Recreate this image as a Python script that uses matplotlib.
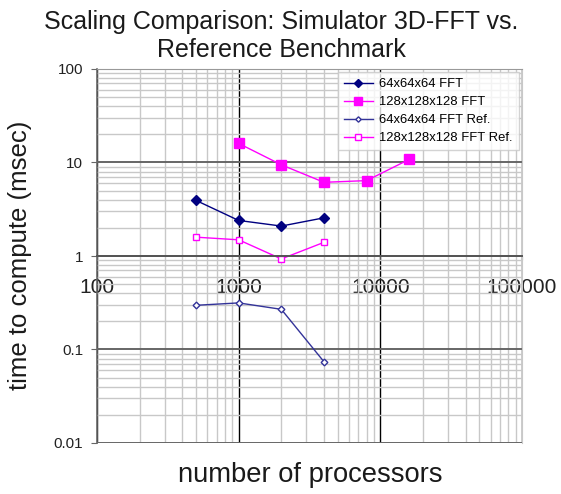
import matplotlib
matplotlib.use("Agg")
import matplotlib.pyplot as plt
from matplotlib.ticker import LogLocator, FixedLocator, FixedFormatter, NullFormatter

plt.rcParams['font.family'] = ['Liberation Sans', 'DejaVu Sans']

# data
procs_64 = [500, 1000, 2000, 4000]
fft_64 = [3.93, 2.40, 2.09, 2.56]
ref_64 = [0.297, 0.315, 0.269, 0.074]

procs_128 = [1000, 2000, 4000, 8000, 16000]
fft_128 = [16.0, 9.45, 6.14, 6.4, 10.8]
procs_128_ref = [500, 1000, 2000, 4000]
ref_128 = [1.59, 1.49, 0.93, 1.40]

x_ticks = [100, 1000, 10000, 100000]
x_labels = ['100', '1000', '10000', '100000']
y_ticks = [0.01, 0.1, 1, 10, 100]
y_labels = ['0.01', '0.1', '1', '10', '100']

navy = '#000080'
navy2 = '#333399'
mag = '#ff00ff'

fig = plt.figure(figsize=(5.61, 4.94), dpi=100)
ax = fig.add_axes([97/561, 1-443/494, 425/561, 374/494])

ax.plot(procs_64, fft_64, '-D', color=navy, lw=1, ms=4.8, label='64x64x64 FFT')
ax.plot(procs_128, fft_128, '-s', color=mag, lw=1, ms=7, label='128x128x128 FFT')
ax.plot(procs_64, ref_64, '-D', color=navy2, lw=1, ms=3.4, mfc='white',
        mec=navy2, mew=1, label='64x64x64 FFT Ref.')
ax.plot(procs_128_ref, ref_128, '-s', color=mag, lw=1, ms=5, mfc='white',
        mec=mag, mew=1, label='128x128x128 FFT Ref.')

ax.set_xscale('log')
ax.set_yscale('log')
ax.set_xlim(100, 100000)
ax.set_ylim(0.01, 100)

ax.xaxis.set_major_locator(FixedLocator(x_ticks))
ax.xaxis.set_major_formatter(FixedFormatter(x_labels))
ax.yaxis.set_major_locator(FixedLocator(y_ticks))
ax.yaxis.set_major_formatter(FixedFormatter(y_labels))
ax.xaxis.set_minor_locator(LogLocator(base=10, subs=range(2, 10)))
ax.yaxis.set_minor_locator(LogLocator(base=10, subs=range(2, 10)))
ax.xaxis.set_minor_formatter(NullFormatter())
ax.yaxis.set_minor_formatter(NullFormatter())

ax.set_axisbelow(True)
ax.grid(True, which='minor', color='#c8c8c8', lw=1)
ax.yaxis.grid(True, which='major', color='#666666', lw=1.4)
ax.xaxis.grid(True, which='major', color='black', lw=1)

# x axis crosses at y = 1, like the original spreadsheet chart
ax.spines['bottom'].set_position(('data', 1))
ax.spines['bottom'].set_color('#555555')
ax.spines['bottom'].set_linewidth(1.4)
ax.spines['left'].set_color('#666666')
ax.spines['left'].set_linewidth(1.2)
ax.spines['top'].set_color('#999999')
ax.spines['right'].set_color('#c8c8c8')

ax.tick_params(axis='x', which='major', length=3, pad=13, labelsize=15,
               color='#555555', labelcolor='#222222')
ax.tick_params(axis='y', which='major', length=4, pad=6, labelsize=11,
               color='#666666', labelcolor='#222222')
ax.tick_params(which='minor', length=0)

leg = ax.legend(loc='upper right', fontsize=9.4, frameon=True, fancybox=False,
                borderaxespad=0.25, handlelength=2.2, handletextpad=0.5,
                labelspacing=0.45, borderpad=0.45, markerscale=0.8)
leg.get_frame().set_edgecolor('#c8c8c8')
leg.get_frame().set_linewidth(1)

fig.text(281/561, 1-36/494, 'Scaling Comparison: Simulator 3D-FFT vs.\nReference Benchmark',
         ha='center', va='center', fontsize=18, linespacing=1.2, color='#1a1a1a')
fig.text(310/561, 1-475/494, 'number of processors', ha='center', va='center',
         fontsize=19.7, color='#1a1a1a')
fig.text(20/561, 1-255/494, 'time to compute (msec)', ha='center', va='center',
         rotation=90, fontsize=18.5, color='#1a1a1a')

fig.savefig('out.png', dpi=100)
